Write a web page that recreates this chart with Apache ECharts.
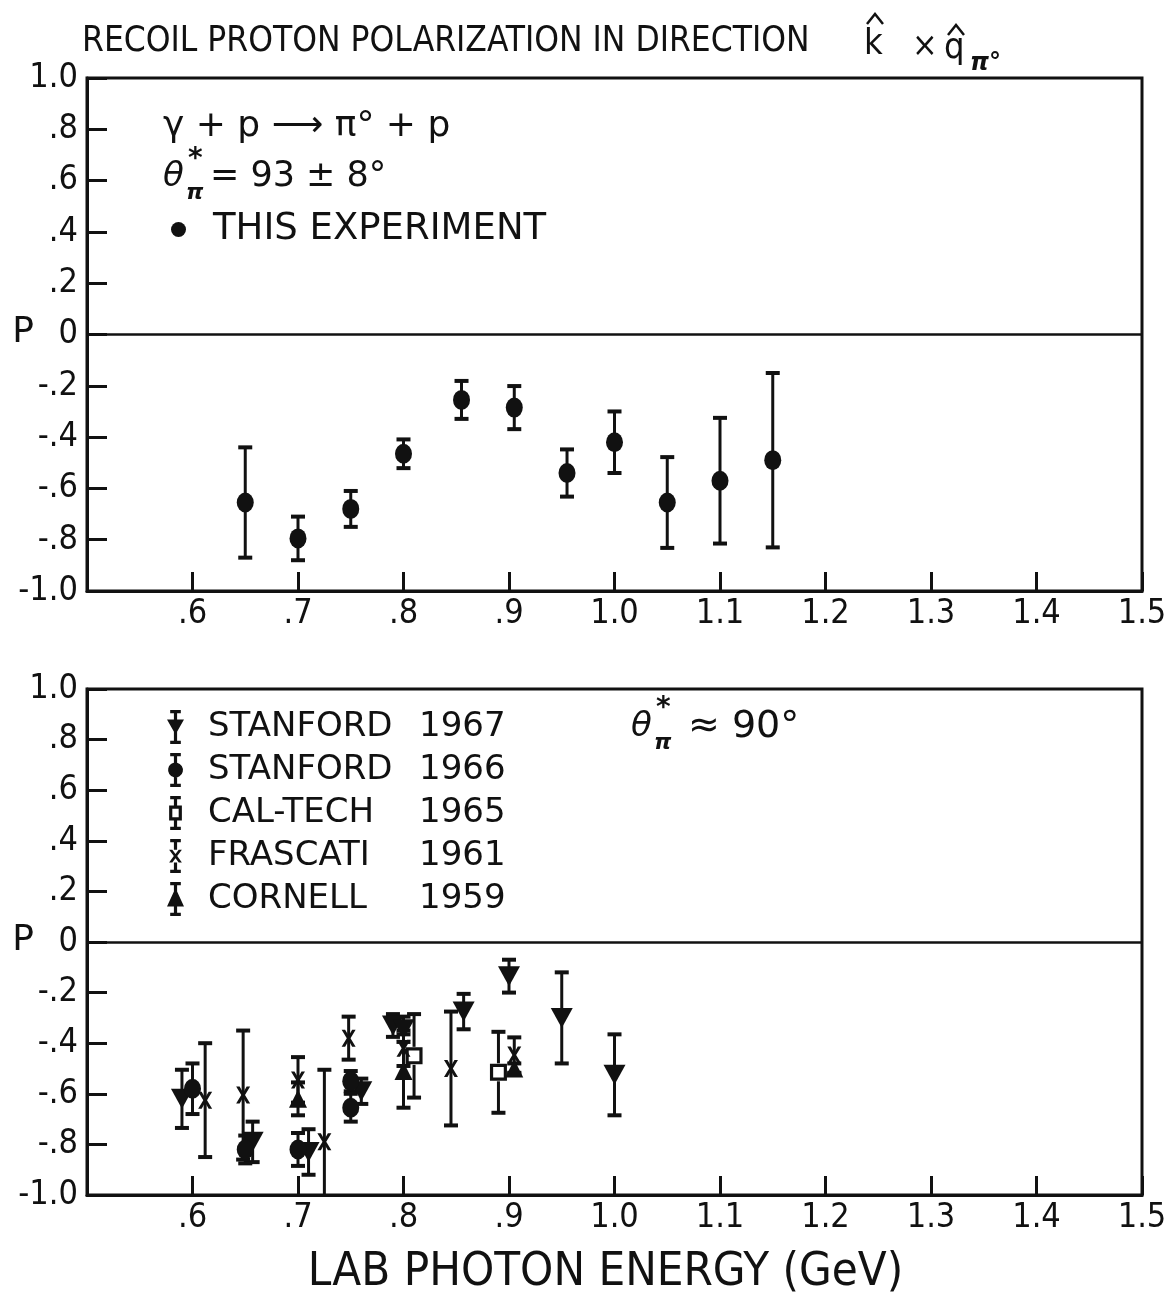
<!DOCTYPE html>
<html>
<head>
<meta charset="utf-8">
<script src="https://cdn.jsdelivr.net/npm/echarts@6/dist/echarts.min.js"></script>
<style>
  html, body { margin: 0; padding: 0; background: #fff; }
  #chart { width: 1166px; height: 1292px; }
</style>
</head>
<body>
<div id="chart"></div>
<script>
// Axis ticks and their printed labels
const energyTicks = [0.6, 0.7, 0.8, 0.9, 1.0, 1.1, 1.2, 1.3, 1.4, 1.5];
const energyTickLabels = ['.6', '.7', '.8', '.9', '1.0', '1.1', '1.2', '1.3', '1.4', '1.5'];
const polTicks = [-1.0, -0.8, -0.6, -0.4, -0.2, 0, 0.2, 0.4, 0.6, 0.8, 1.0];
const polTickLabels = ['-1.0', '-.8', '-.6', '-.4', '-.2', '0', '.2', '.4', '.6', '.8', '1.0'];

// Upper panel: this experiment, theta* = 93 ± 8 deg
const thisExpEnergy = [0.65, 0.70, 0.75, 0.80, 0.855, 0.905, 0.955, 1.00, 1.05, 1.10, 1.15];
const thisExpP      = [-0.655, -0.795, -0.68, -0.465, -0.255, -0.285, -0.54, -0.42, -0.655, -0.57, -0.49];
const thisExpErr    = [0.215, 0.085, 0.07, 0.056, 0.074, 0.084, 0.092, 0.12, 0.177, 0.245, 0.34];

// Lower panel: earlier measurements near theta* = 90 deg
const stanford67Energy = [0.59, 0.657, 0.71, 0.76, 0.79, 0.80, 0.857, 0.90, 0.95, 1.00];
const stanford67P      = [-0.62, -0.79, -0.83, -0.59, -0.33, -0.345, -0.275, -0.135, -0.30, -0.525];
const stanford67Err    = [0.115, 0.08, 0.09, 0.05, 0.045, 0.05, 0.07, 0.065, 0.18, 0.16];

const stanford66Energy = [0.60, 0.65, 0.70, 0.75, 0.75];
const stanford66P      = [-0.58, -0.82, -0.82, -0.55, -0.655];
const stanford66Err    = [0.10, 0.055, 0.065, 0.04, 0.055];

const caltechEnergy = [0.81, 0.89];
const caltechP      = [-0.45, -0.515];
const caltechErr    = [0.165, 0.16];

const frascatiEnergy = [0.612, 0.648, 0.70, 0.725, 0.748, 0.80, 0.845, 0.905];
const frascatiP      = [-0.625, -0.605, -0.545, -0.79, -0.38, -0.42, -0.50, -0.447];
const frascatiErr    = [0.225, 0.255, 0.09, 0.285, 0.085, 0.07, 0.225, 0.07];

const cornellEnergy = [0.70, 0.80, 0.905];
const cornellP      = [-0.62, -0.51, -0.50];
const cornellErr    = [0.065, 0.145, 0.02];

const INK = '#111';
const FONT = '"DejaVu Sans", "Liberation Sans", sans-serif';
const FONT_C = '"DejaVu Sans Condensed", "Liberation Sans Narrow", "DejaVu Sans", sans-serif';

function lookup(ticks, labels, v) {
  const i = ticks.findIndex(t => Math.abs(t - v) < 1e-6);
  return i < 0 ? '' : labels[i];
}

function xAxisFor(gridIndex, withName) {
  const ax = {
    type: 'value', gridIndex, min: 0.5, max: 1.5, interval: 0.1,
    axisLine: { show: true, onZero: false, lineStyle: { color: INK, width: 3 } },
    axisTick: { show: true, inside: true, length: 19, lineStyle: { color: INK, width: 3 } },
    axisLabel: { formatter: v => lookup(energyTicks, energyTickLabels, v), fontSize: 34, color: INK, fontFamily: FONT_C, margin: 6 },
    splitLine: { show: false }
  };
  if (withName) {
    Object.assign(ax, {
      name: 'LAB PHOTON ENERGY (GeV)', nameLocation: 'middle', nameGap: 54,
      nameTextStyle: { fontSize: 47, color: INK, fontFamily: FONT_C, padding: [0, 18, 0, 0] }
    });
  }
  return ax;
}

function yAxisFor(gridIndex) {
  return {
    type: 'value', gridIndex, min: -1, max: 1, interval: 0.2,
    axisLine: { show: true, onZero: false, lineStyle: { color: INK, width: 3 } },
    axisTick: { show: true, inside: true, length: 20, lineStyle: { color: INK, width: 3 } },
    axisLabel: { formatter: v => lookup(polTicks, polTickLabels, v), fontSize: 34, color: INK, fontFamily: FONT_C, margin: 9 },
    splitLine: { show: false }
  };
}

// Vertical error bar with end caps, clipped to the plot box; gap leaves room for a hollow marker
function makeErrorBars(gap) {
  return function (params, api) {
    const x = api.value(0), y = api.value(1), e = api.value(2);
    const hi = api.coord([x, y + e]);
    const mid = api.coord([x, y]);
    const lo = api.coord([x, y - e]);
    const cs = params.coordSys;
    const yTop = cs.y, yBot = cs.y + cs.height;
    const y1 = Math.max(hi[1], yTop), y2 = Math.min(lo[1], yBot);
    const stem = (a, b) => ({ type: 'line', shape: { x1: mid[0], y1: a, x2: mid[0], y2: b }, style: { stroke: INK, lineWidth: 3 } });
    const children = gap > 0 ? [stem(y1, mid[1] - gap), stem(mid[1] + gap, y2)] : [stem(y1, y2)];
    [hi, lo].forEach(p => {
      if (p[1] >= yTop && p[1] <= yBot) {
        children.push({ type: 'line', shape: { x1: p[0] - 7, y1: p[1], x2: p[0] + 7, y2: p[1] }, style: { stroke: INK, lineWidth: 4 } });
      }
    });
    return { type: 'group', children };
  };
}

function zip2(a, b) { return a.map((v, i) => [v, b[i]]); }
function zip3(a, b, c) { return a.map((v, i) => [v, b[i], c[i]]); }

function barSeries(idx, E, P, Err, gap) {
  return { type: 'custom', xAxisIndex: idx, yAxisIndex: idx, silent: true, z: 2,
           encode: { x: 0, y: 1 }, renderItem: makeErrorBars(gap || 0), data: zip3(E, P, Err) };
}

const crossPath = 'path://M0,0 L3,0 L6,5 L9,0 L12,0 L7.6,7 L12,14 L9,14 L6,9 L3,14 L0,14 L4.4,7 Z';
const hollowSquarePath = 'path://M0,0 H16 V16 H0 Z M3,3 V13 H13 V3 Z';

function markSeries(idx, name, E, P, sym) {
  return Object.assign({
    type: 'scatter', name, xAxisIndex: idx, yAxisIndex: idx, z: 3, silent: true,
    itemStyle: { color: INK, opacity: 1 }, data: zip2(E, P)
  }, sym);
}

// Legend icons: marker with its error bar
const iconStanford67 = 'path://M3,0 H13 V3 H9.5 V9 H16 L8,23 L0,9 H6.5 V3 H3 Z M6.5,20 H9.5 V29 H13 V32 H3 V29 H6.5 Z';
const iconStanford66 = 'path://M3,0 H13 V3 H9.5 V9.2 A7,7 0 1,1 6.5,9.2 V3 H3 Z M6.5,22 H9.5 V29 H13 V32 H3 V29 H6.5 Z';
const iconCaltech = 'path://M3,0 H13 V3 H9.5 V9 H14 V23 H9.5 V29 H13 V32 H3 V29 H6.5 V23 H2 V9 H6.5 V3 H3 Z M5,12 V20 H11 V12 Z';
const iconFrascati = 'path://M3,0 H13 V3 H9.5 V10 H6.5 V3 H3 Z M2,10 L5,10 L8,14 L11,10 L14,10 L9.6,16 L14,22 L11,22 L8,18 L5,22 L2,22 L6.4,16 Z M6.5,22 H9.5 V29 H13 V32 H3 V29 H6.5 Z';
const iconCornell = 'path://M3,0 H13 V3 H9.5 V9 L16,23 H0 L6.5,9 V3 H3 Z M6.5,22 H9.5 V29 H13 V32 H3 V29 H6.5 Z';

function legendLabel(name) {
  const parts = name.split(' ');
  return '{g|}{n|' + parts[0] + '}{y|' + parts[1] + '}';
}

function txt(x, y, text, font, align) {
  return { type: 'text', x, y, silent: true,
           style: { text, font, fill: INK, align: align || 'left', verticalAlign: 'middle' } };
}
function hat(x, y) {
  return { type: 'polyline', silent: true,
           shape: { points: [[x - 8, y + 10], [x, y], [x + 8, y + 10]] },
           style: { stroke: INK, lineWidth: 2.5, fill: null } };
}

const zeroLine = {
  silent: true, symbol: ['none', 'none'], label: { show: false },
  lineStyle: { color: INK, width: 2.5, type: 'solid' }, data: [{ yAxis: 0 }]
};

const upper = markSeries(0, 'THIS EXPERIMENT', thisExpEnergy, thisExpP, { symbol: 'circle', symbolSize: [17, 20] });
upper.markLine = zeroLine;
const s67 = markSeries(1, 'STANFORD 1967', stanford67Energy, stanford67P, { symbol: 'triangle', symbolRotate: 180, symbolSize: [22, 20] });
s67.markLine = zeroLine;

const gridBase = { left: 87, width: 1055, show: true, borderColor: INK, borderWidth: 3,
                   backgroundColor: 'transparent', containLabel: false, outerBoundsMode: 'none' };

const option = {
  animation: false,
  backgroundColor: '#fff',
  grid: [
    Object.assign({ top: 78, height: 513 }, gridBase),
    Object.assign({ top: 689, height: 506 }, gridBase)
  ],
  xAxis: [xAxisFor(0, false), xAxisFor(1, true)],
  yAxis: [yAxisFor(0), yAxisFor(1)],
  legend: [
    {
      left: 166, top: 206, itemWidth: 15, itemHeight: 15, selectedMode: false,
      data: [{ name: 'THIS EXPERIMENT', icon: 'circle' }],
      formatter: n => '{g|}{n|' + n + '}',
      textStyle: { rich: { g: { width: 22 }, n: { fontSize: 37, fontFamily: FONT, color: INK } } }
    },
    {
      left: 162, top: 705, orient: 'vertical', itemGap: 9, itemWidth: 17, itemHeight: 34, selectedMode: false,
      data: [
        { name: 'STANFORD 1967', icon: iconStanford67 },
        { name: 'STANFORD 1966', icon: iconStanford66 },
        { name: 'CAL-TECH 1965', icon: iconCaltech },
        { name: 'FRASCATI 1961', icon: iconFrascati },
        { name: 'CORNELL 1959', icon: iconCornell }
      ],
      formatter: legendLabel,
      textStyle: { rich: {
        g: { width: 19 },
        n: { width: 211, fontSize: 34, fontFamily: FONT, color: INK },
        y: { fontSize: 34, fontFamily: FONT, color: INK }
      } }
    }
  ],
  graphic: [
    txt(82, 42, 'RECOIL PROTON POLARIZATION IN DIRECTION', '35px ' + FONT_C),
    txt(864, 45, 'k', '36px ' + FONT_C), hat(875, 14),
    txt(912, 47, '×', '34px ' + FONT_C),
    txt(944, 49, 'q', '36px ' + FONT_C), hat(956, 25),
    txt(970, 64, 'π°', 'italic bold 24px ' + FONT),
    txt(23, 333, 'P', '36px ' + FONT, 'center'),
    txt(23, 941, 'P', '36px ' + FONT, 'center'),
    txt(163, 127, 'γ + p ⟶ π° + p', '36px ' + FONT),
    txt(163, 177, 'θ', 'italic 34px ' + FONT), txt(188, 160, '*', 'bold 28px ' + FONT), txt(186, 193, 'π', 'italic bold 22px ' + FONT),
    txt(210, 177, '= 93 ± 8°', '35px ' + FONT),
    txt(631, 727, 'θ', 'italic 34px ' + FONT), txt(656, 709, '*', 'bold 28px ' + FONT), txt(654, 743, 'π', 'italic bold 22px ' + FONT),
    txt(688, 727, '≈ 90°', '38px ' + FONT)
  ],
  series: [
    barSeries(0, thisExpEnergy, thisExpP, thisExpErr),
    upper,
    barSeries(1, stanford67Energy, stanford67P, stanford67Err),
    barSeries(1, stanford66Energy, stanford66P, stanford66Err),
    barSeries(1, caltechEnergy, caltechP, caltechErr, 9),
    barSeries(1, frascatiEnergy, frascatiP, frascatiErr),
    barSeries(1, cornellEnergy, cornellP, cornellErr),
    s67,
    markSeries(1, 'STANFORD 1966', stanford66Energy, stanford66P, { symbol: 'circle', symbolSize: [17, 20] }),
    markSeries(1, 'CAL-TECH 1965', caltechEnergy, caltechP, { symbol: hollowSquarePath, symbolSize: [17, 17] }),
    markSeries(1, 'FRASCATI 1961', frascatiEnergy, frascatiP, { symbol: crossPath, symbolSize: [14, 17] }),
    markSeries(1, 'CORNELL 1959', cornellEnergy, cornellP, { symbol: 'triangle', symbolSize: [18, 18] })
  ]
};

const chart = echarts.init(document.getElementById('chart'), null, { renderer: 'canvas' });
chart.setOption(option);
</script>
</body>
</html>
